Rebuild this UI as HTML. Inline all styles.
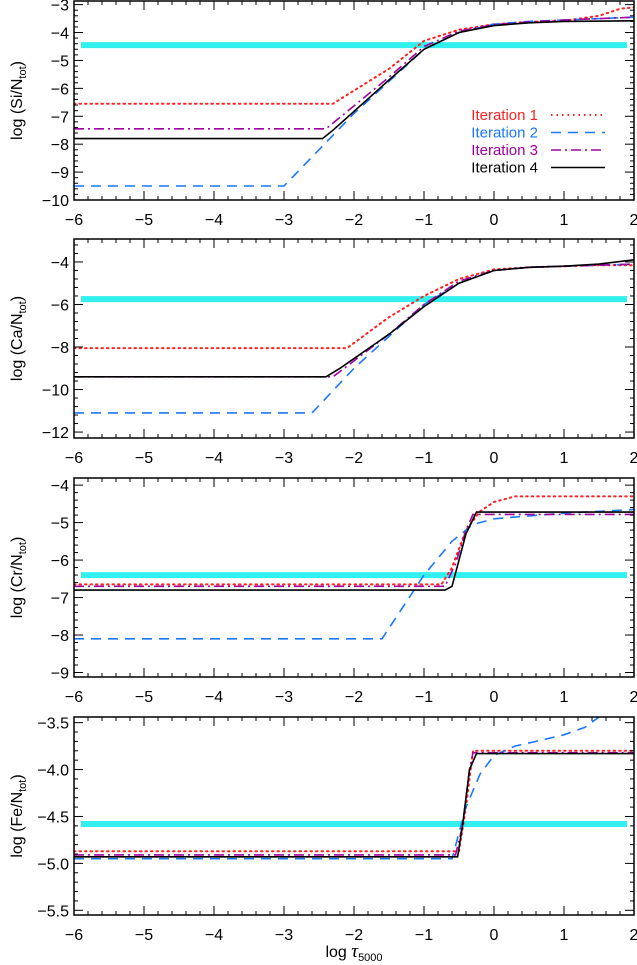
<!DOCTYPE html>
<html><head><meta charset="utf-8"><style>
html,body{margin:0;padding:0;background:#fff;}
svg{display:block;font-family:"Liberation Sans",sans-serif;}
</style></head><body>
<svg id="chart" width="637" height="965" viewBox="0 0 637 965" xmlns="http://www.w3.org/2000/svg"></svg>
<script>
// Shared x data (log tau5000)
const xTicks = [-6,-5,-4,-3,-2,-1,0,1,2];
const seriesNames = ["Iteration 1","Iteration 2","Iteration 3","Iteration 4"];
// Panel 1: Si
const siCyan = -4.45;
const siX1 = [-6,-2.3,-1.5,-1,-0.5,0,0.5,1,1.5,1.8,2];
const siY1 = [-6.55,-6.55,-5.3,-4.3,-3.9,-3.7,-3.62,-3.58,-3.4,-3.15,-3.1];
const siX2 = [-6,-3.0,-2,-1,-0.5,0,0.5,1,2];
const siY2 = [-9.5,-9.5,-6.9,-4.6,-4.0,-3.7,-3.6,-3.55,-3.45];
const siX3 = [-6,-2.4,-1.5,-1,-0.5,0,0.5,1,2];
const siY3 = [-7.45,-7.45,-5.6,-4.5,-3.95,-3.72,-3.62,-3.55,-3.45];
const siX4 = [-6,-2.45,-2.3,-1.5,-1,-0.5,0,0.5,1,2];
const siY4 = [-7.8,-7.8,-7.5,-5.7,-4.6,-4.0,-3.75,-3.65,-3.6,-3.58];
const siTicks = [-3,-4,-5,-6,-7,-8,-9,-10];
// Panel 2: Ca
const caCyan = -5.75;
const caX1 = [-6,-2.1,-1.5,-1,-0.5,0,0.5,1,1.5,2];
const caY1 = [-8.05,-8.05,-6.6,-5.6,-4.8,-4.35,-4.25,-4.2,-4.15,-4.15];
const caX2 = [-6,-2.6,-2,-1,-0.5,0,0.5,1,1.5,2];
const caY2 = [-11.1,-11.1,-9.0,-6.0,-5.0,-4.4,-4.25,-4.2,-4.15,-4.1];
const caX3 = [-6,-2.3,-1.5,-1,-0.5,0,0.5,1,1.5,2];
const caY3 = [-9.4,-9.4,-7.4,-6.0,-4.9,-4.4,-4.25,-4.2,-4.15,-4.1];
const caX4 = [-6,-2.4,-2.2,-1.5,-1,-0.5,0,0.5,1,1.5,2];
const caY4 = [-9.4,-9.4,-9.0,-7.4,-6.1,-5.0,-4.4,-4.25,-4.2,-4.1,-3.9];
const caTicks = [-4,-6,-8,-10,-12];
// Panel 3: Cr
const crCyan = -6.4;
const crX1 = [-6,-0.75,-0.6,-0.4,-0.2,0,0.3,2];
const crY1 = [-6.65,-6.65,-6.2,-5.2,-4.7,-4.45,-4.3,-4.3];
const crX2 = [-6,-1.6,-1.0,-0.6,-0.3,0,0.5,1,2];
const crY2 = [-8.1,-8.1,-6.4,-5.5,-5.05,-4.9,-4.82,-4.75,-4.65];
const crX3 = [-6,-0.7,-0.55,-0.4,-0.3,2];
const crY3 = [-6.7,-6.7,-6.1,-5.2,-4.78,-4.78];
const crX4 = [-6,-0.7,-0.6,-0.5,-0.4,-0.25,2];
const crY4 = [-6.8,-6.8,-6.7,-6.0,-5.3,-4.72,-4.72];
const crTicks = [-4,-5,-6,-7,-8,-9];
// Panel 4: Fe
const feCyan = -4.58;
const feX1 = [-6,-0.5,-0.4,-0.3,2];
const feY1 = [-4.87,-4.87,-4.4,-3.8,-3.8];
const feX2 = [-6,-0.6,-0.4,-0.2,0,0.3,0.6,1.0,1.3,1.5];
const feY2 = [-4.95,-4.95,-4.4,-4.05,-3.85,-3.75,-3.7,-3.63,-3.55,-3.44];
const feX3 = [-6,-0.55,-0.45,-0.35,-0.3,2];
const feY3 = [-4.91,-4.91,-4.6,-4.0,-3.82,-3.82];
const feX4 = [-6,-0.52,-0.45,-0.35,-0.25,2];
const feY4 = [-4.93,-4.93,-4.6,-4.0,-3.83,-3.83];
const feTicks = [-3.5,-4.0,-4.5,-5.0,-5.5];

const NS = "http://www.w3.org/2000/svg";
const svg = document.getElementById("chart");
const X0 = 74, X1 = 634;
function xs(v){ return X0 + (v + 6) / 8 * (X1 - X0); }
function mk(tag, attrs, parent){
  const e = document.createElementNS(NS, tag);
  for (const k in attrs) e.setAttribute(k, attrs[k]);
  (parent || svg).appendChild(e);
  return e;
}
const colors = ["#ff2020","#1a78ff","#a000a0","#000000"];
const dashes = ["1.5,4","10,7","10,4,2,4",""];
const widths = [2,1.6,1.6,1.6];

const panels = [
  {key:"si", label:"Si", top:1, bot:200, vTop:-2.87, vBot:-10.0, ticks:siTicks, minor:0.2, cyan:siCyan, fmt:0,
   xs:[siX1,siX2,siX3,siX4], ys:[siY1,siY2,siY3,siY4]},
  {key:"ca", label:"Ca", top:239, bot:438, vTop:-2.92, vBot:-12.28, ticks:caTicks, minor:0.4, cyan:caCyan, fmt:0,
   xs:[caX1,caX2,caX3,caX4], ys:[caY1,caY2,caY3,caY4]},
  {key:"cr", label:"Cr", top:478, bot:677, vTop:-3.81, vBot:-9.12, ticks:crTicks, minor:0.2, cyan:crCyan, fmt:0,
   xs:[crX1,crX2,crX3,crX4], ys:[crY1,crY2,crY3,crY4]},
  {key:"fe", label:"Fe", top:717, bot:915, vTop:-3.44, vBot:-5.55, ticks:feTicks, minor:0.1, cyan:feCyan, fmt:1,
   xs:[feX1,feX2,feX3,feX4], ys:[feY1,feY2,feY3,feY4]}
];

panels.forEach((p) => {
  const ys = v => p.top + (p.vTop - v) / (p.vTop - p.vBot) * (p.bot - p.top);
  const g = mk("g", {});
  
  
  const cid = "clip-" + p.key;
  const cp = mk("clipPath", {id: cid}, g);
  mk("rect", {x: X0, y: p.top, width: X1 - X0, height: p.bot - p.top}, cp);
  const band = mk("line", {x1: xs(-5.9), x2: xs(1.9), y1: ys(p.cyan), y2: ys(p.cyan), stroke: "#33f0f0", "stroke-width": 6}, g);
  
  
  for (let s = 0; s < 4; s++) {
    const d = p.xs[s].map((x, i) => (i ? "L" : "M") + xs(x).toFixed(1) + "," + ys(p.ys[s][i]).toFixed(1)).join(" ");
    const path = mk("path", {d: d, fill: "none", stroke: colors[s], "stroke-width": widths[s], "clip-path": "url(#" + cid + ")"}, g);
    if (dashes[s]) path.setAttribute("stroke-dasharray", dashes[s]);
    if (s === 0) path.setAttribute("stroke-linecap", "round");
    
    
  }
  const fr = mk("rect", {x: X0, y: p.top, width: X1 - X0, height: p.bot - p.top, fill: "none", stroke: "#000", "stroke-width": 1.5}, g);
  
  
  for (let v = -6; v <= 2.001; v += 0.2) {
    const major = Math.abs(v - Math.round(v)) < 1e-6;
    const L = major ? 9 : 4;
    const x = xs(v);
    mk("line", {x1: x, x2: x, y1: p.bot, y2: p.bot - L, stroke: "#000", "stroke-width": 1}, g);
    mk("line", {x1: x, x2: x, y1: p.top, y2: p.top + L, stroke: "#000", "stroke-width": 1}, g);
  }
  xTicks.forEach(v => {
    const t = mk("text", {x: xs(v), y: p.bot + 25, "text-anchor": "middle", "font-size": 16}, g);
    t.textContent = (v < 0 ? "\u2212" + (-v) : String(v));
    
    
  });
  const lo = Math.min(p.vTop, p.vBot), hi = Math.max(p.vTop, p.vBot);
  const step = p.minor;
  for (let v = Math.ceil(lo / step) * step; v <= hi + 1e-6; v += step) {
    const isMajor = p.ticks.some(t => Math.abs(t - v) < 1e-6);
    const L = isMajor ? 9 : 4;
    const y = ys(v);
    mk("line", {x1: X0, x2: X0 + L, y1: y, y2: y, stroke: "#000", "stroke-width": 1}, g);
    mk("line", {x1: X1, x2: X1 - L, y1: y, y2: y, stroke: "#000", "stroke-width": 1}, g);
  }
  p.ticks.forEach(v => {
    const t = mk("text", {x: X0 - 5, y: ys(v) + 6, "text-anchor": "end", "font-size": 16}, g);
    t.textContent = "\u2212" + (-v).toFixed(p.fmt);
    
    
  });
  const cy = (p.top + p.bot) / 2;
  const yt = mk("text", {x: 0, y: 0, "text-anchor": "middle", "font-size": 16, transform: "translate(22," + cy + ") rotate(-90)"}, g);
  yt.innerHTML = 'log (' + p.label + '/N<tspan font-size="11" dy="4">tot</tspan><tspan dy="-4">)</tspan>';
  
  
});

const leg = mk("g", {});


seriesNames.forEach((n, i) => {
  const y = 115 + i * 17.5;
  const t = mk("text", {x: 538, y: y + 5, "text-anchor": "end", "font-size": 15, fill: i === 3 ? "#000" : colors[i]}, leg);
  t.textContent = n;
  
  
  const l = mk("line", {x1: 551, x2: 605, y1: y, y2: y, stroke: colors[i], "stroke-width": widths[i]}, leg);
  if (dashes[i]) l.setAttribute("stroke-dasharray", dashes[i]);
  
  
});

const xt = mk("text", {x: 354, y: 957, "text-anchor": "middle", "font-size": 16});
xt.innerHTML = 'log <tspan font-family="Liberation Serif" font-style="italic" font-size="19">τ</tspan><tspan font-size="11" dy="4">5000</tspan>';


</script>
</body></html>
